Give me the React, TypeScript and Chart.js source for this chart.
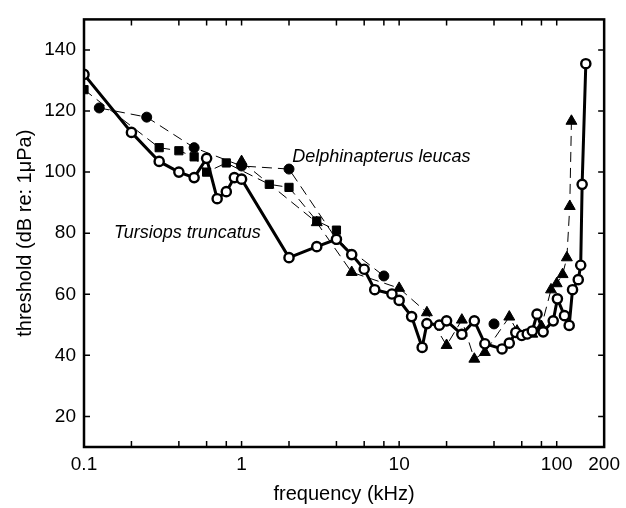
import React, { useEffect, useRef } from 'react';
import { Chart, registerables } from 'chart.js';

Chart.register(...registerables);

// Tursiops truncatus (open circles, solid line)
const tursiopsFreq = [0.1, 0.2, 0.3, 0.4, 0.5, 0.6, 0.7, 0.8, 0.9, 1, 2, 3, 4, 5, 6, 7, 9, 10, 12, 14, 15, 18, 20, 25, 30, 35, 45, 50, 55, 60, 65, 70, 75, 82, 95, 101, 112, 120, 126, 137, 142, 145, 153];
const tursiopsDb = [132, 113, 103.5, 100, 98.2, 104.5, 91.3, 93.6, 98.2, 97.7, 72, 75.6, 78, 73, 68.2, 61.5, 60.1, 58, 52.7, 42.6, 50.4, 49.9, 51.3, 46.9, 51.3, 43.8, 42.1, 44, 47.5, 46.5, 47, 48, 53.5, 47.7, 51.3, 58.5, 53, 49.8, 61.5, 64.8, 69.5, 96, 135.5];

// Delphinapterus leucas (filled circles, dashed)
const belugaCircleFreq = [0.125, 0.25, 0.5, 1, 2, 4, 8, 40];
const belugaCircleDb = [121, 118, 108, 102, 101, 78, 66, 50.3];

// Delphinapterus leucas (filled squares, dashed)
const belugaSquareFreq = [0.1, 0.3, 0.4, 0.5, 0.6, 0.8, 1.5, 2, 3, 4];
const belugaSquareDb = [127, 108, 107, 105, 100, 103, 96, 95, 84, 81];

// Delphinapterus leucas (filled triangles, dashed)
const belugaTriFreq = [1, 3, 5, 10, 15, 20, 25, 30, 35, 50, 56, 62, 70, 80, 92, 100, 109, 116, 121, 124];
const belugaTriDb = [103.5, 83.5, 67.2, 62, 54, 43.3, 51.6, 38.8, 41, 52.6, 48, 46.5, 47, 49.5, 61.5, 63.5, 66.5, 72, 88.8, 116.7];

const xTickValues = [0.1, 0.2, 0.4, 0.6, 0.8, 1, 2, 4, 6, 8, 10, 20, 40, 60, 80, 100, 200];
const xTickLabels = [0.1, 1, 10, 100, 200];
const yTickValues = [20, 40, 60, 80, 100, 120, 140];

const FONT = '"Liberation Sans", Arial, Helvetica, sans-serif';

const pts = (xs: number[], ys: number[]) => xs.map((x, i) => ({ x, y: ys[i] }));

const framePlugin = {
  id: 'frame',
  afterDraw(chart: any) {
    const { ctx, chartArea: a, scales } = chart;
    const x = scales.x;
    const y = scales.y;
    ctx.save();
    ctx.strokeStyle = '#000';
    ctx.lineWidth = 2.5;
    ctx.strokeRect(a.left, a.top, a.right - a.left, a.bottom - a.top);
    ctx.lineWidth = 1.5;
    ctx.beginPath();
    for (const v of xTickValues) {
      const px = x.getPixelForValue(v);
      ctx.moveTo(px, a.bottom);
      ctx.lineTo(px, a.bottom - 6);
      ctx.moveTo(px, a.top);
      ctx.lineTo(px, a.top + 6);
    }
    for (const v of yTickValues) {
      const py = y.getPixelForValue(v);
      ctx.moveTo(a.left, py);
      ctx.lineTo(a.left + 6, py);
      ctx.moveTo(a.right, py);
      ctx.lineTo(a.right - 6, py);
    }
    ctx.stroke();
    ctx.fillStyle = '#000';
    ctx.font = `italic 18px ${FONT}`;
    ctx.textBaseline = 'middle';
    ctx.textAlign = 'left';
    ctx.fillText('Delphinapterus leucas', x.getPixelForValue(2.1), y.getPixelForValue(105));
    ctx.fillText('Tursiops truncatus', x.getPixelForValue(0.155), y.getPixelForValue(80.2));
    ctx.restore();
  },
};

export default function App() {
  const ref = useRef<HTMLCanvasElement>(null);
  useEffect(() => {
    if (!ref.current) return;
    const belugaBase = {
      borderColor: '#000',
      borderWidth: 1,
      borderDash: [10, 6],
      pointBackgroundColor: '#000',
      pointBorderColor: '#000',
      pointBorderWidth: 1,
      fill: false,
      tension: 0,
    };
    const chart = new Chart(ref.current, {
      type: 'line',
      data: {
        datasets: [
          {
            label: 'Tursiops truncatus',
            data: pts(tursiopsFreq, tursiopsDb),
            borderColor: '#000',
            borderWidth: 3,
            pointStyle: 'circle',
            pointRadius: 4.6,
            pointBorderWidth: 2.4,
            pointBackgroundColor: '#fff',
            pointBorderColor: '#000',
            fill: false,
            tension: 0,
          },
          {
            ...belugaBase,
            label: 'D. leucas (circles)',
            data: pts(belugaCircleFreq, belugaCircleDb),
            pointStyle: 'circle',
            pointRadius: 5,
            segment: {
              borderColor: (c: any) => (c.p1.parsed.x > 20 ? 'rgba(0,0,0,0)' : '#000'),
            },
          },
          {
            ...belugaBase,
            label: 'D. leucas (squares)',
            data: pts(belugaSquareFreq, belugaSquareDb),
            pointStyle: 'rect',
            pointRadius: 5.8,
          },
          {
            ...belugaBase,
            label: 'D. leucas (triangles)',
            data: pts(belugaTriFreq, belugaTriDb),
            pointStyle: 'triangle',
            pointRadius: 6.3,
          },
        ],
      },
      options: {
        animation: false,
        responsive: false,
        events: [],
        layout: { padding: { top: 14, right: 18, left: 0, bottom: 0 } },
        plugins: { legend: { display: false }, tooltip: { enabled: false } },
        scales: {
          x: {
            type: 'logarithmic',
            min: 0.1,
            max: 200,
            grid: { display: false, drawTicks: false },
            border: { display: false },
            afterBuildTicks: (s: any) => {
              s.ticks = xTickValues.map((v) => ({ value: v }));
            },
            ticks: {
              autoSkip: false,
              maxRotation: 0,
              color: '#000',
              padding: 6,
              font: { family: FONT, size: 19 },
              callback: (v: any) => (xTickLabels.includes(Number(v)) ? String(v) : ''),
            },
            title: {
              display: true,
              text: 'frequency (kHz)',
              color: '#000',
              font: { family: FONT, size: 20 },
              padding: { top: 0, bottom: 2 },
            },
            afterFit: (s: any) => {
              s.height = 61;
            },
          },
          y: {
            min: 10,
            max: 150,
            grid: { display: false, drawTicks: false },
            border: { display: false },
            afterBuildTicks: (s: any) => {
              s.ticks = yTickValues.map((v) => ({ value: v }));
            },
            ticks: {
              color: '#000',
              padding: 8,
              font: { family: FONT, size: 19 },
            },
            title: {
              display: true,
              text: 'threshold (dB re: 1\u03bcPa)',
              color: '#000',
              font: { family: FONT, size: 20 },
              padding: { top: 13, bottom: 0 },
            },
            afterFit: (s: any) => {
              s.width = 84;
            },
          },
        },
      },
      plugins: [framePlugin],
    });
    return () => chart.destroy();
  }, []);
  return (
    <canvas
      ref={ref}
      width={626}
      height={508}
      style={{ position: 'fixed', left: 0, top: 0, width: 626, height: 508, background: '#fff' }}
    />
  );
}
